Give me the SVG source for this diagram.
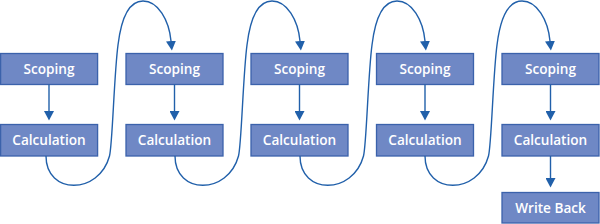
<svg xmlns="http://www.w3.org/2000/svg" width="600" height="224" viewBox="0 0 600 224">
<style>
.box{fill:#6f88c5;stroke:#3b62ab;stroke-width:1.3}
.lbl{fill:#ffffff;font-family:"Open Sans","Noto Sans",sans-serif;font-weight:600;font-size:13.6px;text-anchor:middle}
.con{fill:none;stroke:#2160aa;stroke-width:1.4}
</style>
<defs>
<marker id="ah" markerUnits="userSpaceOnUse" markerWidth="10" markerHeight="10" viewBox="0 0 10 10" refX="0" refY="5" orient="auto">
<path d="M0,0 L9.5,5 L0,10 z" fill="#2160aa"/>
</marker>
</defs>
<g id="scoping1"><rect class="box" x="0.6" y="53.5" width="97" height="31"/><text class="lbl" x="49" y="73.8">Scoping</text></g>
<g id="calc1"><rect class="box" x="0.6" y="124.5" width="97" height="31.5"/><text class="lbl" x="49" y="144.8">Calculation</text></g>
<g id="scoping2"><rect class="box" x="126" y="53.5" width="97" height="31"/><text class="lbl" x="174.5" y="73.8">Scoping</text></g>
<g id="calc2"><rect class="box" x="126" y="124.5" width="97" height="31.5"/><text class="lbl" x="174.5" y="144.8">Calculation</text></g>
<g id="scoping3"><rect class="box" x="251" y="53.5" width="97" height="31"/><text class="lbl" x="299.5" y="73.8">Scoping</text></g>
<g id="calc3"><rect class="box" x="251" y="124.5" width="97" height="31.5"/><text class="lbl" x="299.5" y="144.8">Calculation</text></g>
<g id="scoping4"><rect class="box" x="376.5" y="53.5" width="97" height="31"/><text class="lbl" x="425" y="73.8">Scoping</text></g>
<g id="calc4"><rect class="box" x="376.5" y="124.5" width="97" height="31.5"/><text class="lbl" x="425" y="144.8">Calculation</text></g>
<g id="scoping5"><rect class="box" x="502" y="53.5" width="97" height="31"/><text class="lbl" x="550.5" y="73.8">Scoping</text></g>
<g id="calc5"><rect class="box" x="502" y="124.5" width="97" height="31.5"/><text class="lbl" x="550.5" y="144.8">Calculation</text></g>
<g id="writeback"><rect class="box" x="502" y="192.5" width="97" height="30.5"/><text class="lbl" x="550.5" y="212.8">Write Back</text></g>
<g id="connectors">
<path class="con" marker-end="url(#ah)" d="M49,84.5 V111"/>
<path class="con" marker-end="url(#ah)" d="M174.5,84.5 V111"/>
<path class="con" marker-end="url(#ah)" d="M299.5,84.5 V111"/>
<path class="con" marker-end="url(#ah)" d="M425,84.5 V111"/>
<path class="con" marker-end="url(#ah)" d="M550.5,84.5 V111"/>
<path class="con" marker-end="url(#ah)" d="M550.5,156 V178"/>
<path class="con" marker-end="url(#ah)" d="M46,156 C46,195 99,195 109.5,156 C112.5,145 114,75 118,45 C122,12 132,1 143,1 C158,1 169,20 171,41"/>
<path class="con" marker-end="url(#ah)" d="M175,156 C175,195 228,195 238.5,156 C241.5,145 243,75 247,45 C251,12 261,1 272,1 C287,1 298,20 300,41"/>
<path class="con" marker-end="url(#ah)" d="M300,156 C300,195 353,195 363.5,156 C366.5,145 368,75 372,45 C376,12 386,1 397,1 C412,1 423,20 425,41"/>
<path class="con" marker-end="url(#ah)" d="M425,156 C425,195 478,195 488.5,156 C491.5,145 493,75 497,45 C501,12 511,1 522,1 C537,1 548,20 550,41"/>
</g>
</svg>
